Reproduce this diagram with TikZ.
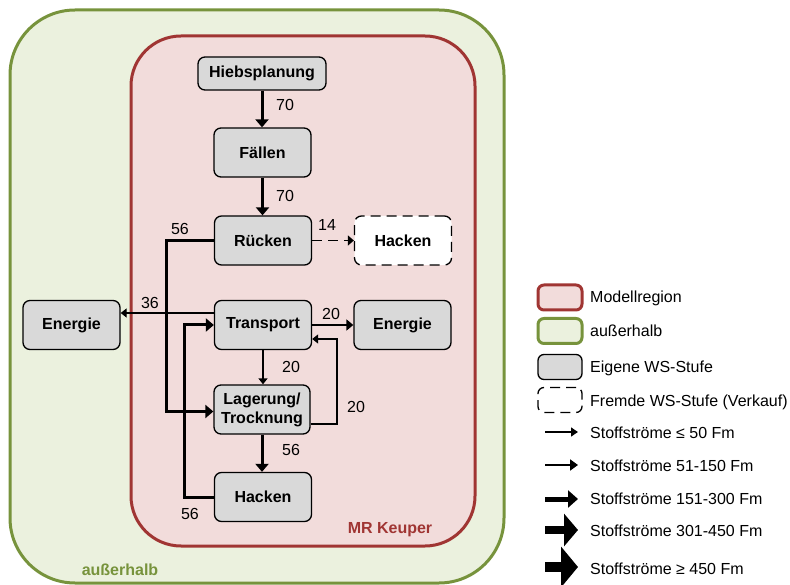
\documentclass[tikz,border=0pt]{standalone}
\usepackage{fontspec}
\setmainfont{Liberation Sans}
\usetikzlibrary{arrows.meta,calc}
\definecolor{outerfill}{HTML}{EBF1DE}
\definecolor{outerline}{HTML}{77933C}
\definecolor{mrfill}{HTML}{F2DCDB}
\definecolor{mrline}{HTML}{A03533}
\definecolor{boxgray}{HTML}{D9D9D9}
\tikzset{
  stage/.style={draw=black, line width=1.3pt, fill=boxgray, rounded corners=7pt,
    minimum width=97pt, minimum height=49pt, inner sep=0pt, font=\bfseries\fontsize{16}{19}\selectfont, align=center},
  foreign/.style={stage, fill=white, dash pattern=on 10pt off 6pt},
  lbl/.style={font=\fontsize{16}{18}\selectfont, inner sep=0pt},
  thickflow/.style={line width=3pt, -{Triangle[width=13pt,length=8pt]}},
  medflow/.style={line width=2pt, -{Triangle[width=11pt,length=7pt]}},
  thinflow/.style={line width=1.3pt, -{Triangle[width=9pt,length=6pt]}},
  dashflow/.style={line width=1.5pt, dash pattern=on 10pt off 6pt, -{Triangle[width=10pt,length=6pt]}},
  legbox/.style={rounded corners=6pt, minimum width=44pt, minimum height=25pt, inner sep=0pt},
  legtext/.style={anchor=west, inner sep=0pt, font=\fontsize{16}{18}\selectfont},
}
\begin{document}
\begin{tikzpicture}[x=1pt,y=-1pt, font=\fontsize{16}{19}\selectfont]
\useasboundingbox (0,0) rectangle (790,585);
% regions
\draw[line width=3pt, draw=outerline, fill=outerfill, rounded corners=65pt] (10,10) rectangle (504,583);
\draw[line width=3pt, draw=mrline, fill=mrfill, rounded corners=50pt] (131,36) rectangle (475,546);
\node[lbl, text=mrline, font=\bfseries\fontsize{16}{18}\selectfont] (mrlabel) at (390,530) {MR Keuper};
\node[lbl, text=outerline, font=\bfseries\fontsize{16}{18}\selectfont] (outlabel) at (120,570) {außerhalb};
% nodes
\node[stage, minimum width=128pt, minimum height=33pt] (hieb) at (262,73.5) {Hiebsplanung};
\node[stage] (faell) at (262.5,152.5) {Fällen};
\node[stage] (ruecken) at (263,240.5) {Rücken};
\node[foreign] (hackenD) at (403,240.5) {Hacken};
\node[stage] (energieL) at (71.5,325) {Energie};
\node[stage] (transport) at (263,325) {Transport};
\node[stage] (energieR) at (402.5,325) {Energie};
\node[stage, minimum width=96pt] (lager) at (262,409.5) {Lagerung/\\Trocknung};
\node[stage] (hackenB) at (263,497) {Hacken};
% connectors
\draw[thickflow] (hieb.south) -- (hieb.south |- faell.north);
\node[lbl] (l70a) at (285,105) {70};
\draw[thickflow] (faell.south) -- (faell.south |- ruecken.north);
\node[lbl] (l70b) at (285,196) {70};
\draw[dashflow] (ruecken.east) -- (hackenD.west);
\node[lbl] (l14) at (327,225) {14};
\draw[thickflow] (ruecken.west) -- (166,240.5) |- ([yshift=-2pt]lager.west);
\node[lbl] (l56a) at (180,229) {56};
\draw[thinflow] ([yshift=12pt]transport.west) -- ([yshift=12pt]energieL.east);
\node[lbl] (l36) at (150,303) {36};
\draw[medflow] (transport.east) -- (energieR.west);
\node[lbl] (l20a) at (331,314) {20};
\draw[thinflow] (transport.south) -- (transport.south |- lager.north);
\node[lbl] (l20b) at (291,367) {20};
\draw[thinflow] ([yshift=-14.5pt]lager.east) -- (337,424) |- ([yshift=-14pt]transport.east);
\node[lbl] (l20c) at (356,407) {20};
\draw[thickflow] (lager.south) -- (lager.south |- hackenB.north);
\node[lbl] (l56b) at (291,450) {56};
\draw[thickflow] (hackenB.west) -- (184,497) |- (transport.west);
\node[lbl] (l56c) at (190,514) {56};
% legend
\node[legbox, draw=mrline, line width=3pt, fill=mrfill] (lg1) at (560,297.5) {};
\node[legtext] (lt1) at (590,298) {Modellregion};
\node[legbox, draw=outerline, line width=3pt, fill=outerfill] (lg2) at (560,331) {};
\node[legtext] (lt2) at (590,331) {außerhalb};
\node[legbox, draw=black, line width=1.3pt, fill=boxgray] (lg3) at (560,367) {};
\node[legtext] (lt3) at (590,368) {Eigene WS-Stufe};
\node[legbox, draw=black, line width=1.3pt, dash pattern=on 10pt off 6pt, fill=white] (lg4) at (560,400) {};
\node[legtext] (lt4) at (590,402) {Fremde WS-Stufe (Verkauf)};
\coordinate (a1s) at (545,432); \coordinate (a1e) at (578,432);
\draw[line width=1.3pt, -{Triangle[width=9pt,length=7pt]}] (a1s) -- (a1e);
\node[legtext] (lt5) at (590,433) {Stoffströme ≤ 50 Fm};
\coordinate (a2s) at (545,465); \coordinate (a2e) at (578,465);
\draw[line width=2.3pt, -{Triangle[width=11pt,length=8pt]}] (a2s) -- (a2e);
\node[legtext] (lt6) at (590,466) {Stoffströme 51-150 Fm};
\coordinate (a3s) at (545,499); \coordinate (a3e) at (578,499);
\draw[line width=5pt, -{Triangle[width=17pt,length=10pt]}] (a3s) -- (a3e);
\node[legtext] (lt7) at (590,499) {Stoffströme 151-300 Fm};
\coordinate (a4s) at (545,530); \coordinate (a4e) at (578,530);
\draw[line width=8pt, -{Triangle[width=32pt,length=14pt]}] (a4s) -- (a4e);
\node[legtext] (lt8) at (590,531) {Stoffströme 301-450 Fm};
\coordinate (a5s) at (545,567); \coordinate (a5e) at (578,567);
\draw[line width=10pt, -{Triangle[width=40pt,length=17pt]}] (a5s) -- (a5e);
\node[legtext] (lt9) at (590,569) {Stoffströme ≥ 450 Fm};
\end{tikzpicture}
\end{document}
